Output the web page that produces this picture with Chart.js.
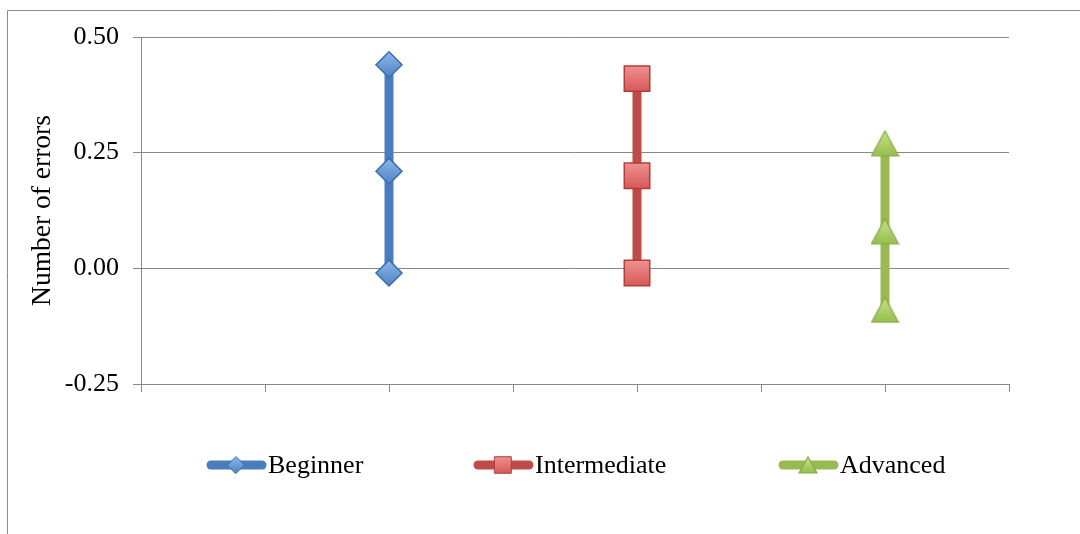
<!DOCTYPE html>
<html>
<head>
<meta charset="utf-8">
<script src="https://cdn.jsdelivr.net/npm/chart.js@4.4.1/dist/chart.umd.min.js"></script>
<style>
  html, body { margin: 0; padding: 0; background: #fff; }
  #wrap { width: 1080px; height: 534px; position: relative; }
</style>
</head>
<body>
<div id="wrap"><canvas id="errChart" width="1080" height="534"></canvas></div>
<script>
// groups sit on every second tick of a 0..7 axis
const groupX = [2, 4, 6];
const seriesNames = ["Beginner", "Intermediate", "Advanced"];
const beginnerVals = [0.44, 0.21, -0.01];
const intermediateVals = [0.41, 0.20, -0.01];
const advancedVals = [0.27, 0.08, -0.09];
const yTicks = [-0.25, 0, 0.25, 0.5];

const lineColors = ["#4A7EBB", "#BE4B48", "#98B954"];
const markTop = ["#8DB6EA", "#F59C9B", "#C6E286"];
const markBottom = ["#4F83C4", "#D04E4C", "#97BE4F"];
const markEdge = ["#3C6DAA", "#B03E3B", "#88A848"];
const markSize = [13, 18, 15];

const allVals = [beginnerVals, intermediateVals, advancedVals];

function toPoints(i) {
  return allVals[i].map(v => ({ x: groupX[i], y: v }));
}

const FONT = "'Liberation Serif', 'Times New Roman', serif";

function markerFill(ctx, i, cy, r) {
  if (!isFinite(cy)) return markBottom[i];
  const g = ctx.createLinearGradient(0, cy - r, 0, cy + r);
  g.addColorStop(0, markTop[i]);
  g.addColorStop(1, markBottom[i]);
  return g;
}

// Excel style triangle: centred on its bounding box
function triangleMarker(w, h) {
  const cv = document.createElement("canvas");
  cv.width = w + 2;
  cv.height = h + 2;
  const c = cv.getContext("2d");
  const g = c.createLinearGradient(0, 1, 0, h + 1);
  g.addColorStop(0, markTop[2]);
  g.addColorStop(1, markBottom[2]);
  c.fillStyle = g;
  c.strokeStyle = markEdge[2];
  c.lineWidth = 1.2;
  c.beginPath();
  c.moveTo(w / 2 + 1, 1);
  c.lineTo(w + 1, h + 1);
  c.lineTo(1, h + 1);
  c.closePath();
  c.fill();
  c.stroke();
  return cv;
}

const bigTriangle = triangleMarker(27, 25);
const smallTriangle = triangleMarker(18, 16);
const markStyle = ["rectRot", "rect", bigTriangle];

const frameAndLegend = {
  id: "frameAndLegend",
  beforeDraw(chart) {
    const c = chart.ctx;
    c.save();
    c.fillStyle = "#fff";
    c.fillRect(0, 0, chart.width, chart.height);
    c.restore();
  },
  afterDraw(chart) {
    const c = chart.ctx;
    c.save();
    c.strokeStyle = "#8c8c8c";
    c.lineWidth = 1;
    c.beginPath();
    c.moveTo(7.5, 534);
    c.lineTo(7.5, 10.5);
    c.lineTo(1080, 10.5);
    c.stroke();

    // legend
    const lx = [207, 474, 779];
    const ly = 465;
    c.font = "26px " + FONT;
    c.textBaseline = "middle";
    for (let i = 0; i < 3; i++) {
      c.strokeStyle = lineColors[i];
      c.lineWidth = 9;
      c.lineCap = "round";
      c.beginPath();
      c.moveTo(lx[i] + 4, ly);
      c.lineTo(lx[i] + 55, ly);
      c.stroke();
      const r = markSize[i] * 0.65;
      c.fillStyle = markerFill(c, i, ly, r);
      c.strokeStyle = markEdge[i];
      c.lineWidth = 1;
      const st = i === 2 ? smallTriangle : markStyle[i];
      Chart.helpers.drawPoint(c, { pointStyle: st, radius: r, rotation: 0, borderWidth: 1 }, lx[i] + 29, ly);
      c.fillStyle = "#000";
      c.fillText(seriesNames[i], lx[i] + 61, ly + 1);
    }
    c.restore();
  }
};

const datasets = seriesNames.map((name, i) => ({
  label: name,
  data: toPoints(i),
  showLine: true,
  borderColor: lineColors[i],
  borderWidth: 9,
  pointStyle: markStyle[i],
  pointRadius: markSize[i],
  pointHoverRadius: markSize[i],
  pointBackgroundColor: function (context) {
    const chart = context.chart;
    if (!chart.scales || !chart.scales.y || !context.raw) return markBottom[i];
    const cy = chart.scales.y.getPixelForValue(context.raw.y);
    return markerFill(chart.ctx, i, cy, markSize[i]);
  },
  pointBorderColor: markEdge[i],
  pointBorderWidth: 1.5,
  clip: false
}));

new Chart(document.getElementById("errChart").getContext("2d"), {
  type: "scatter",
  data: { datasets: datasets },
  options: {
    responsive: false,
    animation: false,
    events: [],
    layout: { padding: { left: 0, top: 37, right: 71, bottom: 0 } },
    plugins: { legend: { display: false }, tooltip: { enabled: false } },
    scales: {
      x: {
        type: "linear",
        min: 0,
        max: 7,
        ticks: { stepSize: 1, display: false },
        grid: { drawOnChartArea: false, drawTicks: true, tickLength: 8, color: "#888888" },
        border: { color: "#888888", width: 1 },
        afterFit(scale) { scale.height = 150; }
      },
      y: {
        min: -0.25,
        max: 0.5,
        afterBuildTicks(scale) { scale.ticks = yTicks.map(v => ({ value: v })); },
        ticks: {
          color: "#000",
          font: { family: FONT, size: 26 },
          padding: 14,
          callback: v => Number(v).toFixed(2)
        },
        grid: { color: "#888888", tickLength: 8 },
        border: { color: "#888888", width: 1 },
        title: {
          display: true,
          text: "Number of errors",
          color: "#000",
          font: { family: FONT, size: 27.5 },
          padding: { top: 26, bottom: 0 }
        },
        afterFit(scale) { scale.width = 141; }
      }
    }
  },
  plugins: [frameAndLegend]
});
</script>
</body>
</html>
